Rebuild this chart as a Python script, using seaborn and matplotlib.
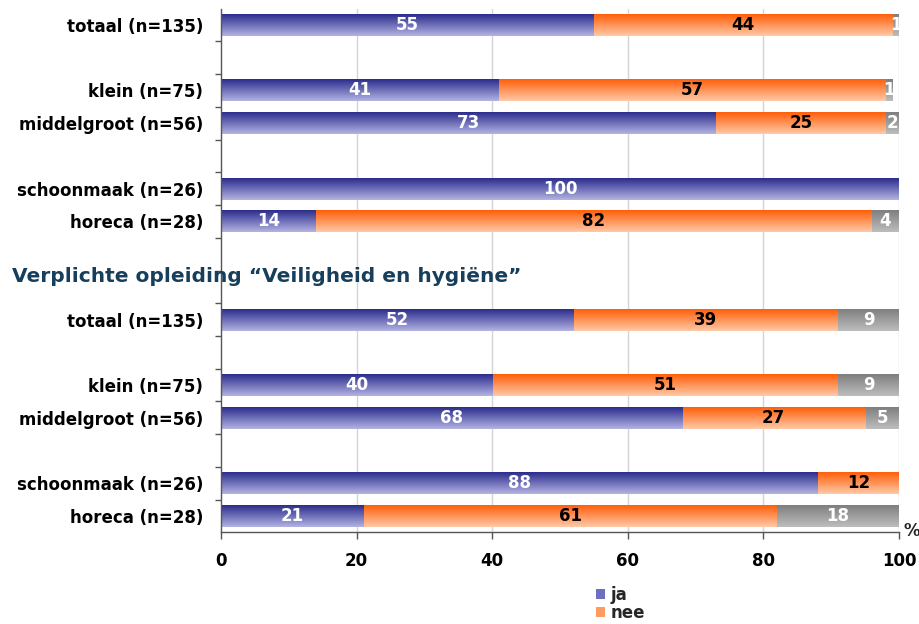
import numpy as np
import pandas as pd
import matplotlib
matplotlib.use("Agg")
import matplotlib.pyplot as plt
import seaborn as sns
from matplotlib.colors import to_rgb
from matplotlib.patches import Patch

# Survey answers (percentages) per group, two questions
categories = ["totaal (n=135)", "klein (n=75)", "middelgroot (n=56)",
              "schoonmaak (n=26)", "horeca (n=28)"]
ja_1 = [55, 41, 73, 100, 14]
nee_1 = [44, 57, 25, 0, 82]
weet_1 = [1, 1, 2, 0, 4]
ja_2 = [52, 40, 68, 88, 21]
nee_2 = [39, 51, 27, 12, 61]
weet_2 = [9, 9, 5, 0, 18]
section_title = "Verplichte opleiding \u201cVeiligheid en hygi\u00ebne\u201d"
legend_labels = ["ja", "nee"]
x_ticks = [0, 20, 40, 60, 80, 100]

# slot positions of the rows (gaps separate the groups)
slots_1 = [0, 2, 3, 5, 6]
slots_2 = [9, 11, 12, 14, 15]
n_slots = 16

sns.set_theme(style="white")
plt.rcParams["font.family"] = ["DejaVu Sans"]
plt.rcParams["font.weight"] = "bold"

rows = []
for tag, slots, ja, nee, weet in (("a", slots_1, ja_1, nee_1, weet_1),
                                  ("b", slots_2, ja_2, nee_2, weet_2)):
    for s, cat, j, n, w in zip(slots, categories, ja, nee, weet):
        rows.append(dict(key=f"{tag}{s}", slot=s, label=cat, ja=j, nee=n, weet=w))
df = pd.DataFrame(rows)
df["cum_nee"] = df["ja"] + df["nee"]
df["cum_all"] = df["ja"] + df["nee"] + df["weet"]

key_of = {r.slot: r.key for r in df.itertuples()}
order = [key_of.get(k, f"gap{k}") for k in range(n_slots)]

fig = plt.figure(figsize=(9.2, 6.24), dpi=100)
ax = fig.add_axes([221 / 920, 1 - 532.4 / 624, 678 / 920, (532.4 - 8.6) / 624])

gradients = {
    "weet": ("#7f7f7f", "#bdbdbd"),
    "nee": ("#ff5f0a", "#ffc9a6"),
    "ja": ("#2b2d8c", "#b3b3e3"),
}

bar_h = 0.67
z = 2
for col, name in (("cum_all", "weet"), ("cum_nee", "nee"), ("ja", "ja")):
    before = len(ax.patches)
    sns.barplot(data=df, x=col, y="key", order=order, orient="h",
                errorbar=None, width=bar_h, color=gradients[name][1],
                linewidth=0, ax=ax)
    top, bot = (np.array(to_rgb(c)) for c in gradients[name])
    t = np.linspace(0, 1, 64)[:, None]
    grad = (top[None, :] * (1 - t) + bot[None, :] * t)[:, None, :]
    for p in ax.patches[before:]:
        w = p.get_width()
        if not np.isfinite(w) or w <= 0:
            p.set_visible(False)
            continue
        x0, y0, h = p.get_x(), p.get_y(), p.get_height()
        ax.imshow(grad, extent=[x0, x0 + w, y0 + h, y0], origin="upper",
                  aspect="auto", zorder=z, interpolation="bilinear")
        p.set_visible(False)
    z += 1

# value labels inside the segments
for r in df.itertuples():
    left = 0
    for val, color in ((r.ja, "white"), (r.nee, "black"), (r.weet, "white")):
        if val > 0:
            ax.text(left + val / 2, r.slot, f"{val}", ha="center", va="center",
                    color=color, fontsize=12, fontweight="bold", zorder=10)
        left += val

ax.set_xlim(0, 100)
ax.set_ylim(n_slots - 0.5, -0.5)
ax.set_xticks(x_ticks)
ax.set_xticklabels([str(v) for v in x_ticks], fontsize=12, fontweight="bold")
ax.set_yticks(list(df["slot"]))
ax.set_yticklabels(list(df["label"]), fontsize=12, fontweight="bold")
ax.set_yticks(np.arange(0.5, n_slots - 1, 1.0), minor=True)
ax.tick_params(axis="y", which="major", length=0, pad=13, colors="black")
ax.tick_params(axis="y", which="minor", left=True, length=4, width=1, color="#555555")
ax.tick_params(axis="x", which="major", bottom=True, length=5, width=1,
               color="#555555", pad=9, labelcolor="black")
ax.set_xlabel("")
ax.set_ylabel("")

ax.set_axisbelow(True)
for xv in x_ticks[1:]:
    ax.axvline(xv, color="#d4d4d4", lw=1, zorder=0.5)
for side in ("top", "right"):
    ax.spines[side].set_visible(False)
for side in ("left", "bottom"):
    ax.spines[side].set_color("#555555")
    ax.spines[side].set_linewidth(1)
    ax.spines[side].set_zorder(12)

fig.text(12 / 920, 1 - 277 / 624, section_title, ha="left", va="center",
         fontsize=14.5, fontweight="bold", color="#173f5c", zorder=20)
fig.text(904 / 920, 1 - 531 / 624, "%", ha="left", va="center",
         fontsize=12, fontweight="bold")

handles = [Patch(facecolor="#6e6fc0", edgecolor="none"),
           Patch(facecolor="#ff9a60", edgecolor="none")]
fig.legend(handles, legend_labels, loc="upper left",
           bbox_to_anchor=(596 / 920, 1 - 586 / 624), frameon=False,
           handlelength=0.55, handleheight=0.55, handletextpad=0.3,
           labelspacing=0.0, prop=dict(size=12, weight="bold"),
           borderaxespad=0, borderpad=0)

fig.savefig("out.png", dpi=100)
